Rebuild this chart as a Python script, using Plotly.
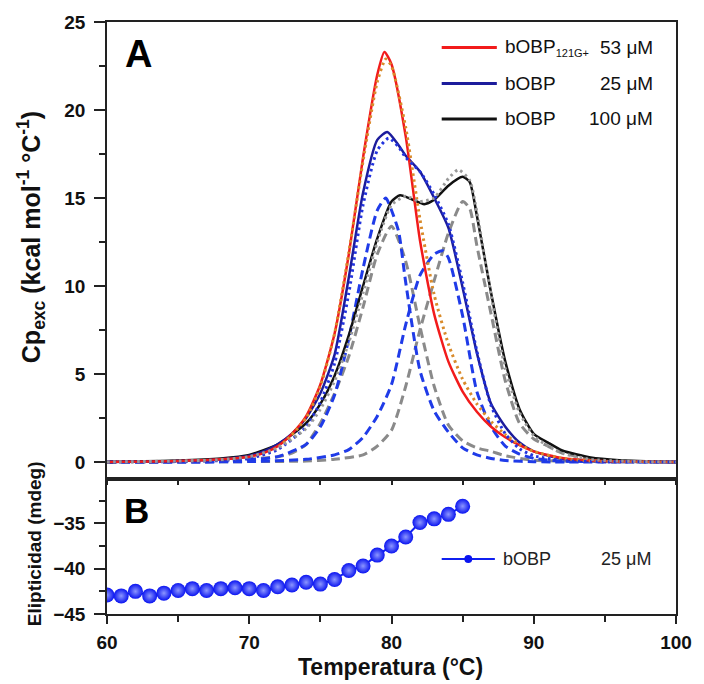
import plotly.graph_objects as go

# ---------------- Data ----------------
# Panel A: DSC excess heat capacity (kcal mol-1 °C-1) vs temperature (°C)
T_red = [60, 65, 68, 70, 71, 72, 73, 74, 75, 76, 77, 78, 79, 79.5, 80, 81, 82, 83, 84, 85, 86, 87, 88, 89, 90, 92, 94, 96, 100]
cp_red = [0, 0.05, 0.15, 0.3, 0.5, 0.9, 1.6, 2.6, 4.4, 7.3, 11.8, 17.3, 22.0, 23.3, 22.6, 18.5, 12.6, 8.4, 5.7, 4.0, 2.85, 2.0, 1.4, 0.95, 0.6, 0.22, 0.08, 0.03, 0]

T_fit_red = [60, 65, 68, 70, 72, 74, 75, 76, 77, 78, 79, 79.6, 80, 81, 82, 83, 84, 85, 86, 87, 88, 89, 90, 92, 94, 96, 100]
cp_fit_red = [0, 0.03, 0.1, 0.25, 0.8, 2.5, 4.3, 7.3, 11.9, 17.1, 21.6, 22.9, 22.5, 19.0, 13.8, 9.5, 6.7, 4.7, 3.3, 2.3, 1.55, 1.0, 0.6, 0.2, 0.05, 0.01, 0]

T_b25 = [60, 65, 68, 70, 71, 72, 73, 74, 75, 76, 77, 78, 79, 79.7, 80.5, 81, 82, 83, 84, 85, 86, 87, 88, 89, 90, 92, 94, 96, 100]
cp_b25 = [0, 0.05, 0.15, 0.35, 0.6, 1.0, 1.6, 2.5, 3.9, 6.1, 10.5, 15.3, 18.3, 18.75, 18.0, 17.4, 16.5, 15.0, 13.3, 9.9, 6.2, 3.3, 2.0, 1.1, 0.6, 0.18, 0.06, 0.02, 0]

T_fit25 = [60, 65, 68, 70, 72, 74, 75, 76, 77, 78, 79, 79.8, 80.5, 81, 82, 83, 84, 85, 86, 87, 88, 89, 90, 92, 94, 100]
cp_fit25 = [0, 0.02, 0.08, 0.2, 0.7, 2.0, 3.4, 5.6, 9.6, 14.6, 17.7, 18.4, 17.9, 17.3, 16.5, 15.2, 13.5, 10.2, 6.3, 3.2, 1.6, 0.75, 0.35, 0.08, 0.02, 0]

T_c1_25 = [60, 68, 72, 74, 75, 76, 77, 78, 79, 79.6, 80, 80.5, 81, 82, 83, 84, 85, 86, 87, 88, 90, 100]
cp_c1_25 = [0, 0.02, 0.3, 1.0, 2.0, 3.8, 7.0, 11.0, 14.3, 15.0, 14.3, 13.1, 10.2, 5.2, 2.9, 1.7, 0.8, 0.4, 0.2, 0.08, 0.01, 0]

T_c2_25 = [60, 70, 74, 76, 77, 78, 79, 80, 81, 82, 83, 83.6, 84, 85, 86, 87, 88, 89, 90, 92, 100]
cp_c2_25 = [0, 0.02, 0.15, 0.4, 0.7, 1.4, 2.6, 4.4, 7.8, 10.6, 11.8, 12.0, 11.6, 8.3, 4.0, 2.0, 0.9, 0.45, 0.2, 0.05, 0]

T_b100 = [60, 65, 68, 70, 72, 74, 75, 76, 77, 78, 79, 80, 80.6, 81.5, 82.3, 83, 84, 85, 85.5, 86, 87, 88, 89, 90, 91, 92, 94, 96, 100]
cp_b100 = [0, 0.08, 0.2, 0.4, 1.0, 2.2, 3.3, 4.9, 7.2, 10.0, 12.7, 14.8, 15.15, 14.9, 14.65, 14.9, 15.7, 16.2, 15.9, 14.0, 9.6, 5.7, 3.0, 1.6, 1.1, 0.65, 0.25, 0.1, 0]

T_fit100 = [60, 65, 68, 70, 72, 74, 75, 76, 77, 78, 79, 80, 81, 82, 83, 84, 84.7, 85.5, 86, 87, 88, 89, 90, 91, 92, 94, 96, 100]
cp_fit100 = [0, 0.05, 0.12, 0.3, 0.8, 1.9, 3.0, 4.6, 6.8, 9.6, 12.5, 14.6, 15.1, 14.8, 15.0, 16.1, 16.6, 16.0, 14.2, 9.5, 5.3, 2.8, 1.5, 0.9, 0.5, 0.15, 0.05, 0]

T_c1_100 = [60, 68, 72, 73, 74, 75, 76, 77, 78, 79, 80, 81, 82, 83, 84, 85, 86, 87, 88, 90, 100]
cp_c1_100 = [0, 0.05, 0.3, 0.5, 1.0, 2.2, 3.9, 6.0, 8.8, 11.8, 13.4, 11.4, 7.7, 4.3, 2.1, 1.2, 0.8, 0.6, 0.35, 0.1, 0]

T_c2_100 = [60, 74, 76, 78, 79, 80, 81, 82, 83, 84, 85, 85.5, 86, 87, 88, 89, 90, 91, 92, 94, 96, 100]
cp_c2_100 = [0, 0.05, 0.15, 0.4, 0.9, 1.8, 4.3, 7.5, 10.3, 13.0, 14.8, 14.4, 12.3, 8.4, 4.6, 2.2, 1.3, 0.9, 0.5, 0.2, 0.05, 0]

# Panel B: circular dichroism ellipticity (mdeg) vs temperature (°C)
T_cd = [60, 61, 62, 63, 64, 65, 66, 67, 68, 69, 70, 71, 72, 73, 74, 75, 76, 77, 78, 79, 80, 81, 82, 83, 84, 85]
cd_mdeg = [-42.9, -43.0, -42.5, -43.0, -42.7, -42.4, -42.2, -42.4, -42.2, -42.1, -42.2, -42.4, -42.0, -41.8, -41.5,
           -41.7, -41.2, -40.2, -39.7, -38.5, -37.5, -36.5, -34.9, -34.5, -34.0, -33.1]

legend_names = ["bOBP<sub><span style='font-size:11px'>121G+</span></sub>", "bOBP", "bOBP"]
legend_conc = ["53 μM", "25 μM", "100 μM"]
legend_colors = ["#F21B1B", "#1C1C9C", "#111111"]
cd_legend = ("bOBP", "25 μM")

# ---------------- Figure ----------------
FONT = "Liberation Sans, Arial, sans-serif"
W, H = 704, 684
ML, MR, MT, MB = 107, 19, 22, 70
PW, PH = W - ML - MR, H - MT - MB
B_TOP = 479  # pixel row of the border between panels


def px_x(p):
    return (p - ML) / PW


def px_y(p):
    return (MT + PH - p) / PH


split = px_y(B_TOP)

fig = go.Figure()


def add_line(x, y, color, width, dash="solid"):
    fig.add_trace(go.Scatter(x=x, y=y, mode="lines", xaxis="x", yaxis="y",
                             line=dict(color=color, width=width, dash=dash, shape="spline", smoothing=0.6),
                             showlegend=False, hoverinfo="skip"))


DASH = "9px,5px"
DOT = "2.5px,3.5px"
# deconvolution components (dashed)
add_line(T_c1_100, cp_c1_100, "#8A8A8A", 3, DASH)
add_line(T_c2_100, cp_c2_100, "#8A8A8A", 3, DASH)
add_line(T_c1_25, cp_c1_25, "#1F3BE8", 3, DASH)
add_line(T_c2_25, cp_c2_25, "#1F3BE8", 3, DASH)
# experimental curves (solid)
add_line(T_b100, cp_b100, legend_colors[2], 2.5)
add_line(T_b25, cp_b25, legend_colors[1], 2.5)
add_line(T_red, cp_red, legend_colors[0], 2.5)
# fits (dotted)
add_line(T_fit_red, cp_fit_red, "#D98B2B", 3, DOT)
add_line(T_fit25, cp_fit25, "#2233DD", 3, DOT)
add_line(T_fit100, cp_fit100, "#999999", 3, DOT)

# Panel B
fig.add_trace(go.Scatter(x=T_cd, y=cd_mdeg, mode="lines+markers", xaxis="x2", yaxis="y2",
                         line=dict(color="#1020F0", width=2),
                         marker=dict(size=15, color="#0A14F0",
                                     gradient=dict(type="radial", color="#8C96FF")),
                         showlegend=False, hoverinfo="skip"))

tickfont = dict(family=FONT, size=19, color="#111", weight="bold")
axline = dict(showline=True, linecolor="#222", linewidth=1.6, mirror=True, showgrid=False, zeroline=False)
minor_style = dict(ticklen=6, tickwidth=1.5, tickcolor="#222", ticks="outside", showgrid=False)

fig.update_layout(
    width=W, height=H,
    margin=dict(l=ML, r=MR, t=MT, b=MB, pad=0),
    paper_bgcolor="white", plot_bgcolor="white",
    showlegend=False,
    xaxis=dict(domain=[0, 1], anchor="y", range=[60, 100], showticklabels=False,
               ticks="outside", dtick=5, tick0=60, ticklen=4, tickwidth=1.5, tickcolor="#222", **axline),
    yaxis=dict(domain=[split, 1], anchor="x", range=[-0.97, 25], tick0=0, dtick=5,
               ticks="outside", ticklen=11, tickwidth=1.6, tickcolor="#222",
               minor=dict(tick0=0, dtick=2.5, **minor_style),
               tickfont=tickfont, ticklabelstandoff=5, **axline),
    xaxis2=dict(domain=[0, 1], anchor="y2", range=[60, 100], tick0=60, dtick=10,
                ticks="outside", ticklen=8, tickwidth=1.6, tickcolor="#222",
                minor=dict(tick0=60, dtick=5, **minor_style),
                tickfont=tickfont, ticklabelstandoff=2, **axline),
    yaxis2=dict(domain=[0, split], anchor="x2", range=[-45, -30.1], tick0=-45, dtick=5,
                ticks="outside", ticklen=11, tickwidth=1.6, tickcolor="#222",
                minor=dict(tick0=-45, dtick=2.5, **minor_style),
                tickfont=tickfont, ticklabelstandoff=5, **axline),
)

ann = []
# axis titles
ann.append(dict(text="Temperatura (°C)", x=px_x(395), y=px_y(667), xref="paper", yref="paper",
                showarrow=False, xanchor="center", yanchor="middle",
                font=dict(family=FONT, size=23, color="#111", weight="bold")))
ann.append(dict(text="Cp<sub>exc</sub> (kcal mol<sup>-1</sup> °C<sup>-1</sup>)", x=px_x(30), y=px_y(237),
                xref="paper", yref="paper", showarrow=False, textangle=-90, xanchor="center", yanchor="middle",
                font=dict(family=FONT, size=25, color="#111", weight="bold")))
ann.append(dict(text="Elipticidad (mdeg)", x=px_x(33), y=px_y(544), xref="paper", yref="paper",
                showarrow=False, textangle=-90, xanchor="center", yanchor="middle",
                font=dict(family=FONT, size=19, color="#111", weight="bold")))
# panel letters
ann.append(dict(text="A", x=px_x(139), y=px_y(54), xref="paper", yref="paper", showarrow=False,
                xanchor="center", yanchor="middle", font=dict(family=FONT, size=38, color="#000", weight="bold")))
ann.append(dict(text="B", x=px_x(137), y=px_y(510), xref="paper", yref="paper", showarrow=False,
                xanchor="center", yanchor="middle", font=dict(family=FONT, size=35, color="#000", weight="bold")))

shapes = []
# legend panel A
leg_rows = [47.5, 83.5, 119]
for name, conc, col, yy in zip(legend_names, legend_conc, legend_colors, leg_rows):
    shapes.append(dict(type="line", xref="paper", yref="paper", x0=px_x(447), x1=px_x(503),
                       y0=px_y(yy), y1=px_y(yy), line=dict(color=col, width=3)))
    ann.append(dict(text=name, x=px_x(509), y=px_y(yy), xref="paper", yref="paper", showarrow=False,
                    xanchor="left", yanchor="middle", font=dict(family=FONT, size=19, color="#111")))
    ann.append(dict(text=conc, x=px_x(664), y=px_y(yy), xref="paper", yref="paper", showarrow=False,
                    xanchor="right", yanchor="middle", font=dict(family=FONT, size=19, color="#111")))

# legend panel B
yb = 559
shapes.append(dict(type="line", xref="paper", yref="paper", x0=px_x(447), x1=px_x(501),
                   y0=px_y(yb), y1=px_y(yb), line=dict(color="#1020F0", width=2)))
shapes.append(dict(type="circle", xref="paper", yref="paper", x0=px_x(470), x1=px_x(478),
                   y0=px_y(yb + 4), y1=px_y(yb - 4), fillcolor="#0A14F0", line=dict(width=0)))
ann.append(dict(text=cd_legend[0], x=px_x(507), y=px_y(yb), xref="paper", yref="paper", showarrow=False,
                xanchor="left", yanchor="middle", font=dict(family=FONT, size=18, color="#222")))
ann.append(dict(text=cd_legend[1], x=px_x(662), y=px_y(yb), xref="paper", yref="paper", showarrow=False,
                xanchor="right", yanchor="middle", font=dict(family=FONT, size=18, color="#222")))

fig.update_layout(annotations=ann, shapes=shapes)
fig.write_html("out.html")
